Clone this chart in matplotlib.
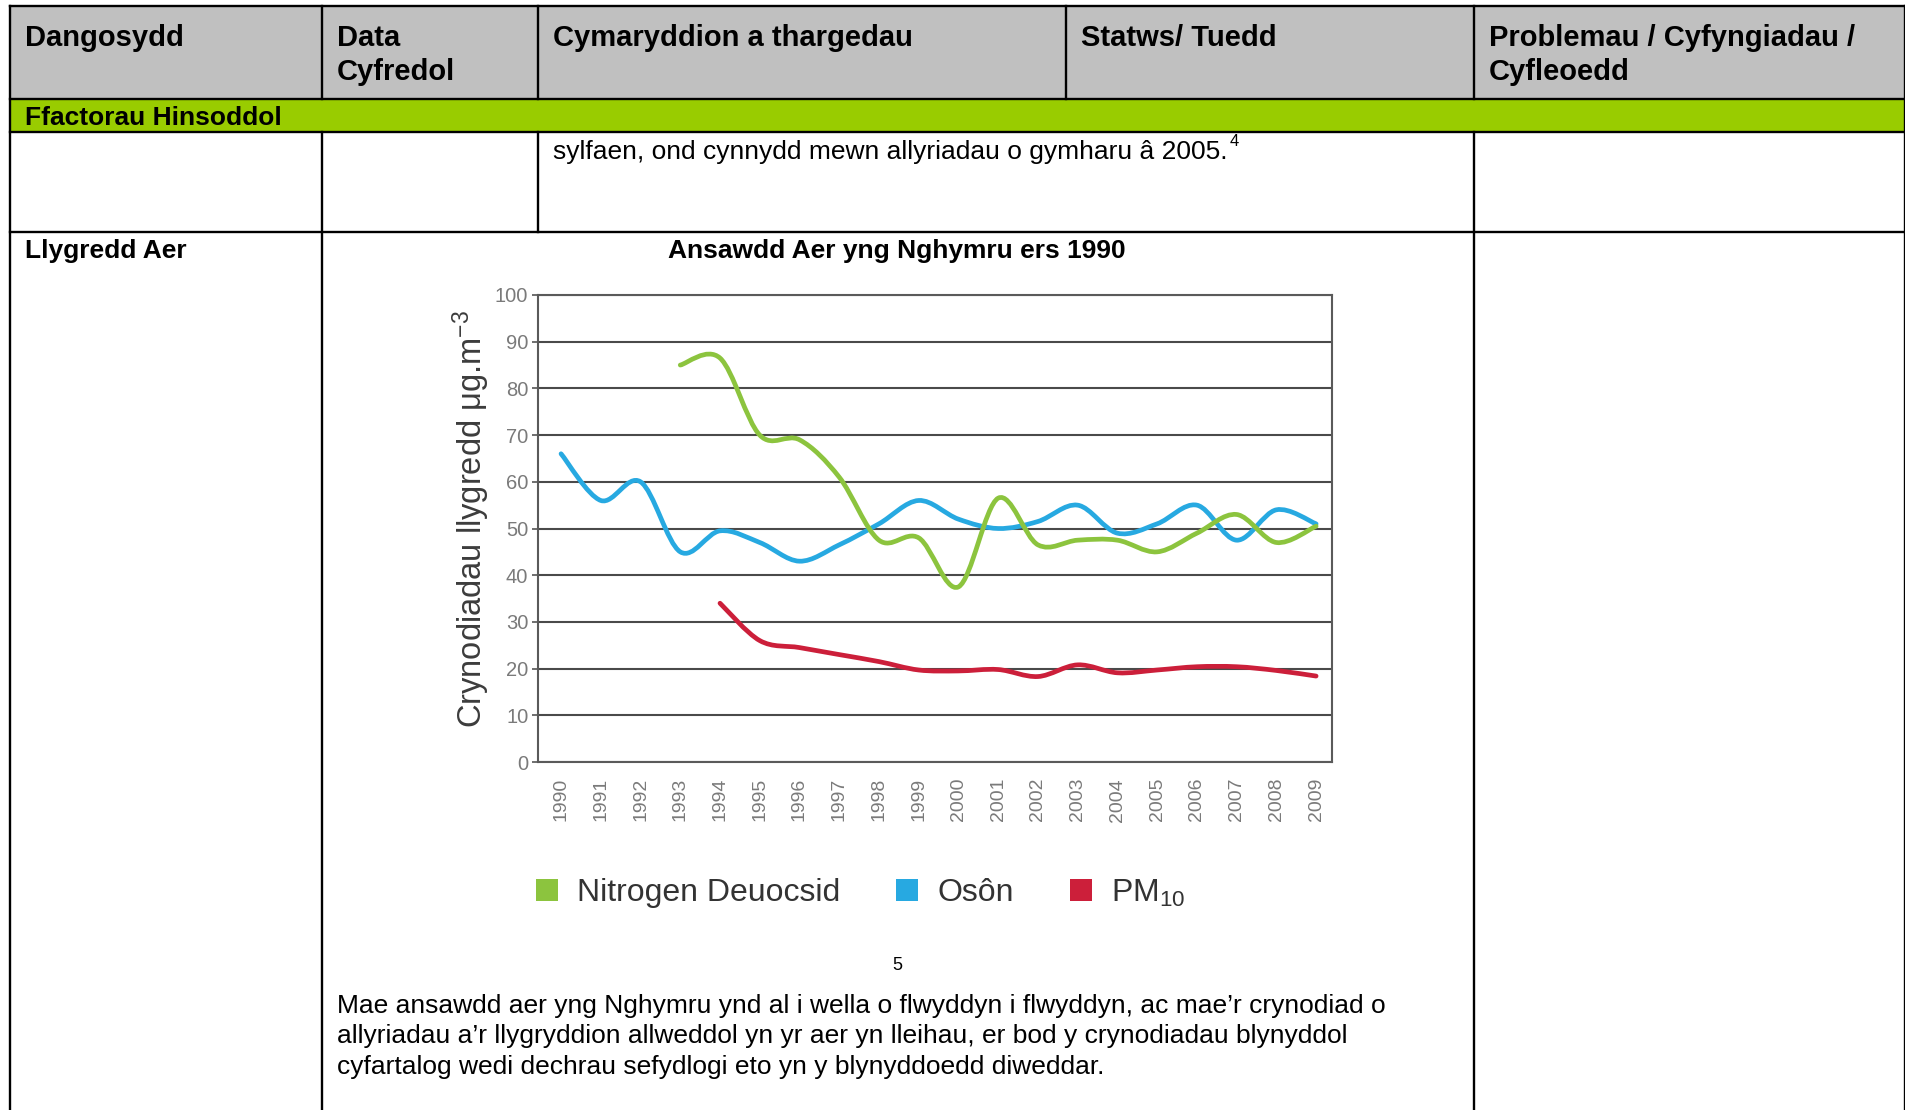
import matplotlib
matplotlib.use("Agg")
import matplotlib.pyplot as plt
from matplotlib.path import Path
from matplotlib.patches import PathPatch, Patch, Rectangle
import numpy as np

plt.rcParams['font.family'] = ['Liberation Sans', 'DejaVu Sans']
plt.rcParams['mathtext.fontset'] = 'custom'
plt.rcParams['mathtext.rm'] = 'Liberation Sans'
plt.rcParams['mathtext.it'] = 'Liberation Sans:italic'
plt.rcParams['mathtext.bf'] = 'Liberation Sans:bold'

# ---------------- data ----------------
years = list(range(1990, 2010))
year_labels = [str(y) for y in years]
ozone = [66, 56, 60, 45, 49.5, 47, 43, 46.5, 51, 56, 52, 50, 51.5, 55, 49, 51, 55, 47.5, 54, 51]
no2_years = list(range(1993, 2010))
no2 = [85, 86.5, 70, 69, 61, 47.5, 48, 37.5, 56.5, 46.5, 47.5, 47.5, 45, 49, 53, 47, 50.5]
pm10_years = list(range(1994, 2010))
pm10 = [34, 26, 24.5, 23, 21.5, 19.7, 19.5, 19.8, 18.3, 20.8, 19.1, 19.7, 20.4, 20.4, 19.6, 18.4]
series_names = ['Nitrogen Deuocsid', 'Osôn', 'PM$_{10}$']
yticks = list(range(0, 101, 10))

header_cols = ['Dangosydd', 'Data\nCyfredol', 'Cymaryddion a thargedau', 'Statws/ Tuedd',
               'Problemau / Cyfyngiadau /\nCyfleoedd']
section_title = 'Ffactorau Hinsoddol'
row2_text = 'sylfaen, ond cynnydd mewn allyriadau o gymharu â 2005.'
indicator = 'Llygredd Aer'
chart_title = 'Ansawdd Aer yng Nghymru ers 1990'
paragraph = ['Mae ansawdd aer yng Nghymru ynd al i wella o flwyddyn i flwyddyn, ac mae\u2019r crynodiad o',
             'allyriadau a\u2019r llygryddion allweddol yn yr aer yn lleihau, er bod y crynodiadau blynyddol',
             'cyfartalog wedi dechrau sefydlogi eto yn y blynyddoedd diweddar.']

GREEN = '#8cc43e'
BLUE = '#27a9e1'
RED = '#cc1f3a'

W, H = 1906, 1110
fig = plt.figure(figsize=(W / 100, H / 100), dpi=100)

# ---------------- page / table ----------------
bg = fig.add_axes([0, 0, 1, 1])
bg.set_xlim(0, W)
bg.set_ylim(H, 0)
bg.axis('off')

bg.add_patch(Rectangle((10, 6), 1895, 93, facecolor='#c0c0c0', edgecolor='none'))
bg.add_patch(Rectangle((10, 99), 1895, 33, facecolor='#99cc00', edgecolor='none'))
lw = 1.7
for y, x0, x1 in [(6, 10, 1905), (99, 10, 1905), (132, 10, 1905), (232, 10, 1905)]:
    bg.plot([x0, x1], [y, y], color='black', lw=lw, solid_capstyle='projecting')
for x, y0, y1 in [(10, 6, 1110), (1905, 6, 1110), (322, 6, 99), (322, 132, 1110),
                  (538.5, 6, 99), (538.5, 132, 232), (1066, 6, 99),
                  (1474.5, 6, 99), (1474.5, 132, 1110)]:
    bg.plot([x, x], [y0, y1], color='black', lw=lw, solid_capstyle='projecting')

hdr = dict(fontsize=21, fontweight='bold', va='baseline', ha='left', color='black')
for x, label in zip([25, 337, 553, 1081, 1489], header_cols):
    for k, line in enumerate(label.split('\n')):
        bg.text(x, 46 + 34 * k, line, **hdr)

bg.text(25, 125, section_title, fontsize=19, fontweight='bold', va='baseline')
t2 = bg.text(553, 159, row2_text, fontsize=19, va='baseline')
bg.annotate('4', xy=(1, 1), xycoords=t2, xytext=(1.5, 4), textcoords='offset points',
            fontsize=12, va='top', ha='left')
bg.text(25, 258, indicator, fontsize=19, fontweight='bold', va='baseline')
bg.text(897, 258, chart_title, fontsize=19, fontweight='bold', va='baseline', ha='center')
bg.text(897, 970, '5', fontsize=13, va='baseline', ha='center')
for k, line in enumerate(paragraph):
    bg.text(337, 1013 + 30.5 * k, line, fontsize=19, va='baseline')

# ---------------- chart ----------------
L, R, T, B = 538, 1332, 295, 762
ax = fig.add_axes([L / W, 1 - B / H, (R - L) / W, (B - T) / H])
ax.set_xlim(1989.42, 2009.4)
ax.set_ylim(0, 100)


def smooth_path(xs, ys):
    pts = np.column_stack([xs, ys]).astype(float)
    n = len(pts)
    verts = [pts[0]]
    codes = [Path.MOVETO]
    for i in range(n - 1):
        p0 = pts[i - 1] if i > 0 else pts[i]
        p1 = pts[i]
        p2 = pts[i + 1]
        p3 = pts[i + 2] if i + 2 < n else pts[i + 1]
        verts += [p1 + (p2 - p0) / 6.0, p2 - (p3 - p1) / 6.0, p2]
        codes += [Path.CURVE4] * 3
    return Path(verts, codes)


for xs, ys, c in [(years, ozone, BLUE), (no2_years, no2, GREEN), (pm10_years, pm10, RED)]:
    ax.add_patch(PathPatch(smooth_path(xs, ys), fill=False, edgecolor=c, lw=3.4,
                           capstyle='round', joinstyle='round', zorder=3))

ax.set_yticks(yticks)
ax.set_xticks(years)
ax.set_xticklabels(year_labels, rotation=90)
ax.grid(axis='y', color='#4a4a4a', lw=1.5)
ax.tick_params(axis='x', length=0, pad=11.5, labelsize=14, labelcolor='#7a7a7a')
ax.tick_params(axis='y', length=4, width=1.2, color='#555555', pad=3, labelsize=14.5,
               labelcolor='#7a7a7a')
for s in ax.spines.values():
    s.set_color('#5a5a5a')
    s.set_linewidth(1.5)

ax.set_ylabel('Crynodiadau llygredd μg.m$^{-3}$', fontsize=23.5, color='#3c3c3c')
ax.yaxis.set_label_coords(-0.058, 0.52)

handles = [Patch(facecolor=c, edgecolor='none', label=n) for c, n in zip([GREEN, BLUE, RED], series_names)]
ax.legend(handles=handles, loc='center left', bbox_to_anchor=(-0.003, -0.2805), ncol=3,
          frameon=False, fontsize=23, handlelength=0.69, handleheight=0.69,
          handletextpad=0.6, columnspacing=1.76, borderaxespad=0, borderpad=0,
          labelcolor='#333333')

fig.savefig('out.png', dpi=100)
